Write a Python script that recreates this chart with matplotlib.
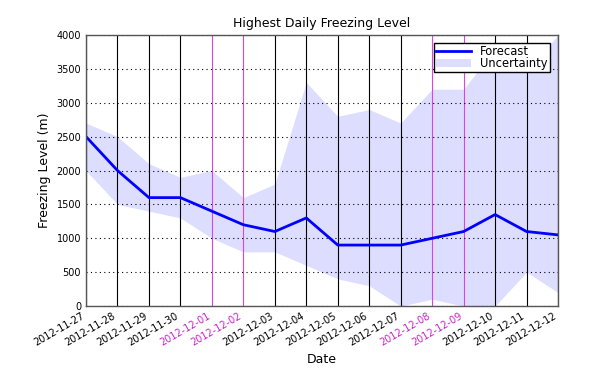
import matplotlib
matplotlib.use("Agg")
import matplotlib.pyplot as plt

# datos
dates = ["2012-11-27", "2012-11-28", "2012-11-29", "2012-11-30", "2012-12-01",
         "2012-12-02", "2012-12-03", "2012-12-04", "2012-12-05", "2012-12-06",
         "2012-12-07", "2012-12-08", "2012-12-09", "2012-12-10", "2012-12-11",
         "2012-12-12"]
forecast = [2500, 2000, 1600, 1600, 1400, 1200, 1100, 1300, 900, 900,
            900, 1000, 1100, 1350, 1100, 1050]
upper = [2700, 2500, 2100, 1900, 2000, 1600, 1800, 3300, 2800, 2900,
         2700, 3200, 3200, 3800, 3450, 4000]
lower = [2000, 1500, 1400, 1300, 1000, 800, 800, 600, 400, 300,
         0, 100, 0, 0, 500, 200]
weekend = ["2012-12-01", "2012-12-02", "2012-12-08", "2012-12-09"]

x = list(range(len(dates)))

fig = plt.figure(figsize=(5.99, 3.76), dpi=100)
ax = fig.add_axes([0.1436, 0.186, 0.788, 0.721])

ax.fill_between(x, lower, upper, color="#ddddff", linewidth=0, label="Uncertainty")
ax.plot(x, forecast, color="blue", linewidth=2, label="Forecast")

# lineas verticales, magenta para fin de semana
for i, d in enumerate(dates):
    c = "#dd44dd" if d in weekend else "black"
    ax.axvline(i, color=c, linewidth=0.8, zorder=1)

ax.yaxis.grid(True, linestyle=(0, (1, 3)), color="black", linewidth=0.8)
ax.set_xlim(0, len(dates) - 1)
ax.set_ylim(0, 4000)
ax.set_yticks(range(0, 4001, 500))
ax.set_xticks(x)
ax.set_xticklabels(dates, rotation=30, ha="right", fontsize=7)
for lbl, d in zip(ax.get_xticklabels(), dates):
    if d in weekend:
        lbl.set_color("#cc22cc")
ax.tick_params(axis="y", labelsize=7)
ax.tick_params(length=0)
for s in ax.spines.values():
    s.set_color("#555555")
    s.set_linewidth(1)

ax.set_xlabel("Date", fontsize=9)
ax.set_ylabel("Freezing Level (m)", fontsize=9)
ax.set_title("Highest Daily Freezing Level", fontsize=9)

h, l = ax.get_legend_handles_labels()
leg = ax.legend(h[::-1], l[::-1], loc="upper right", fontsize=8.3, fancybox=False,
                framealpha=1, borderpad=0.2, labelspacing=-0.1, handlelength=3,
                borderaxespad=0.7)
leg.get_frame().set_edgecolor("black")

fig.savefig("out.png", dpi=100)
